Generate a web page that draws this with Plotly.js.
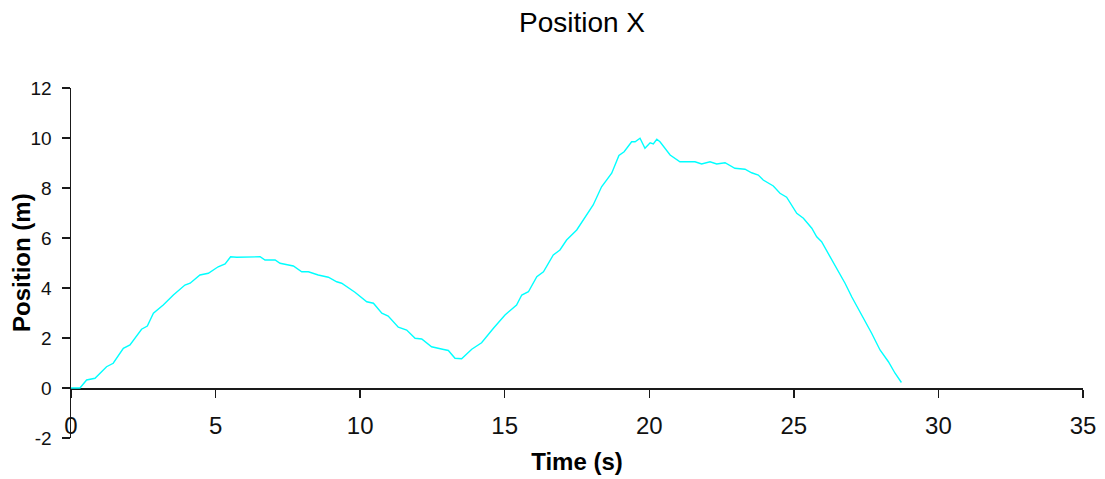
<!DOCTYPE html>
<html>
<head>
<meta charset="utf-8">
<script src="https://cdn.plot.ly/plotly-3.0.1.min.js"></script>
<style>
  html, body { margin: 0; padding: 0; background: #ffffff; }
  #chart { width: 1105px; height: 479px; }
</style>
</head>
<body>
<div id="chart"></div>
<script>
// Sampled horizontal position over time
const timeS = [
  0, 0.31, 0.54, 0.83, 1.23, 1.46, 1.81, 2.04, 2.44, 2.64, 2.85, 3.19, 3.54, 3.94, 4.12,
  4.46, 4.75, 5.09, 5.33, 5.52, 5.73, 5.90, 6.10, 6.54, 6.71, 7.06, 7.23, 7.69, 7.98,
  8.21, 8.55, 8.90, 9.19, 9.36, 9.82, 10.23, 10.46, 10.75, 10.97, 11.32, 11.61, 11.90,
  12.13, 12.47, 12.85, 13.05, 13.28, 13.51, 13.86, 14.20, 14.61, 15.01, 15.41, 15.59,
  15.82, 16.11, 16.34, 16.68, 16.91, 17.14, 17.49, 17.78, 18.06, 18.35, 18.70, 18.95,
  19.13, 19.39, 19.51, 19.68, 19.85, 20.03, 20.14, 20.26, 20.37, 20.72, 21.06, 21.35,
  21.58, 21.81, 22.10, 22.33, 22.62, 22.96, 23.31, 23.54, 23.77, 23.94, 24.29, 24.52,
  24.75, 25.10, 25.33, 25.62, 25.79, 25.96, 26.42, 26.77, 27.00, 27.35, 27.69, 27.98,
  28.27, 28.50, 28.72
];
const positionM = [
  0, 0, 0.32, 0.39, 0.85, 0.99, 1.59, 1.72, 2.35, 2.48, 2.99, 3.32, 3.72, 4.12, 4.19,
  4.52, 4.59, 4.85, 4.96, 5.25, 5.23, 5.23, 5.25, 5.25, 5.12, 5.12, 4.99, 4.88, 4.65,
  4.65, 4.52, 4.43, 4.25, 4.19, 3.83, 3.45, 3.39, 2.99, 2.88, 2.43, 2.32, 1.99,
  1.96, 1.65, 1.55, 1.50, 1.19, 1.17, 1.55, 1.81, 2.39, 2.92, 3.32, 3.72,
  3.85, 4.45, 4.65, 5.32, 5.52, 5.92, 6.32, 6.85, 7.32, 8.05, 8.59, 9.30,
  9.45, 9.85, 9.85, 9.99, 9.59, 9.81, 9.76, 9.95, 9.85, 9.32, 9.05, 9.05,
  9.05, 8.96, 9.05, 8.96, 9.01, 8.79, 8.75, 8.61, 8.52, 8.32, 8.08, 7.79,
  7.63, 6.99, 6.79, 6.39, 6.05, 5.85, 4.92, 4.19, 3.65, 2.92, 2.19, 1.52,
  1.05, 0.59, 0.22
];

const xTickVals = [0, 5, 10, 15, 20, 25, 30, 35];
const yTickVals = [-2, 0, 2, 4, 6, 8, 10, 12];

const trace = {
  x: timeS,
  y: positionM,
  type: 'scatter',
  mode: 'lines',
  line: { color: '#00ffff', width: 1.4 },
  cliponaxis: false,
  hoverinfo: 'skip'
};

const axisFont = 'Liberation Sans, Arial, sans-serif';
const plotLeft = 71;
const plotWidth = 1105 - 71 - 22;

const layout = {
  width: 1105,
  height: 479,
  paper_bgcolor: '#ffffff',
  plot_bgcolor: '#ffffff',
  margin: { l: plotLeft, r: 22, t: 88, b: 41 },
  showlegend: false,
  font: { family: axisFont, color: '#000000' },
  title: {
    text: 'Position X',
    font: { family: axisFont, size: 28, color: '#000000' },
    x: 582 / 1105,
    xref: 'container',
    xanchor: 'center',
    y: 1 - 22 / 479,
    yanchor: 'middle'
  },
  xaxis: {
    range: [0, 35],
    tickvals: xTickVals,
    ticktext: xTickVals.map(String),
    showgrid: false,
    zeroline: false,
    showline: true,
    layer: 'below traces',
    linecolor: '#1a1a1a',
    linewidth: 1.5,
    ticks: 'outside',
    ticklen: 8,
    tickwidth: 1.5,
    tickcolor: '#1a1a1a',
    ticklabelstandoff: 8,
    tickfont: { family: axisFont, size: 24, color: '#111111' },
    anchor: 'free',
    position: 2 / 14,
    title: {
      text: '<b>Time (s)</b>',
      font: { family: axisFont, size: 24, color: '#000000' },
      standoff: 15
    }
  },
  yaxis: {
    range: [-2, 12],
    tickvals: yTickVals,
    ticktext: yTickVals.map(String),
    showgrid: false,
    zeroline: false,
    showline: true,
    layer: 'below traces',
    linecolor: '#1a1a1a',
    linewidth: 1.5,
    ticks: 'outside',
    ticklen: 8,
    tickwidth: 1.5,
    tickcolor: '#1a1a1a',
    ticklabelstandoff: 6,
    tickfont: { family: axisFont, size: 19, color: '#111111' }
  },
  // vertical axis caption, placed in the left margin
  annotations: [{
    text: '<b>Position (m)</b>',
    xref: 'paper',
    yref: 'paper',
    x: (21 - plotLeft) / plotWidth,
    y: 0.5,
    xanchor: 'center',
    yanchor: 'middle',
    textangle: -90,
    showarrow: false,
    font: { family: axisFont, size: 24, color: '#000000' }
  }]
};

Plotly.newPlot('chart', [trace], layout, { staticPlot: true, displayModeBar: false });
</script>
</body>
</html>
